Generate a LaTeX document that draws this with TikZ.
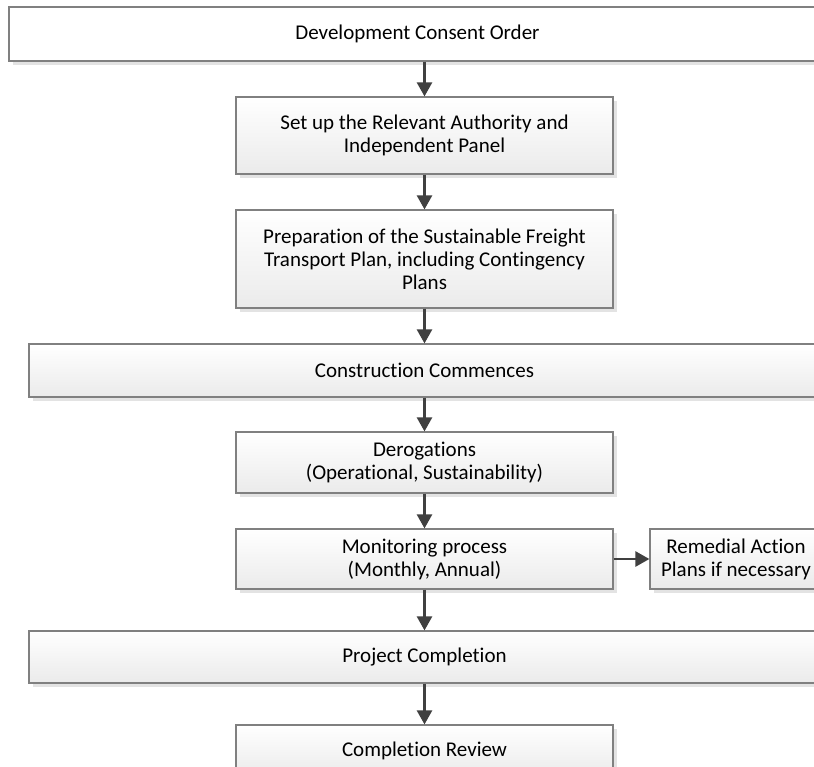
\documentclass[tikz,border=0pt]{standalone}
\usepackage{fontspec}
\setmainfont{Carlito}[Ligatures=NoCommon]
\usepackage{tikz}
\usetikzlibrary{arrows.meta}

\begin{document}
\begin{tikzpicture}[x=1pt, y=-1pt,
	stepbox/.style={draw=black!50, line width=1.2pt, top color=white, bottom color=black!8,
		align=center, inner sep=0pt, minimum width=377pt, text=black,
		font=\fontsize{21}{23}\selectfont,
		preaction={fill=black!11, transform canvas={xshift=4pt, yshift=-4pt}}},
	widebox/.style={stepbox, minimum width=791pt, minimum height=53pt},
	flow/.style={draw=black!75, line width=2.5pt, -{Triangle[length=14pt, width=15pt]}}]

	\useasboundingbox (0,0) rectangle (814,766);
	\fill[white] (0,0) rectangle (814,766);
	\clip (0,0) rectangle (814,766);

	\node[widebox, minimum width=817pt, minimum height=54pt, bottom color=white] (dco) at (417.5,34) {Development Consent Order};
	\node[stepbox, minimum height=77pt] (authority) at (424.5,135.5) {Set up the Relevant Authority and\\Independent Panel};
	\node[stepbox, minimum height=98pt] (sftp) at (424.5,259) {Preparation of the Sustainable Freight\\Transport Plan, including Contingency\\Plans};
	\node[widebox] (construction) at (424.5,370.5) {Construction Commences};
	\node[stepbox, minimum height=61pt] (derogations) at (424.5,462.5) {Derogations\\(Operational, Sustainability)};
	\node[stepbox, minimum height=60pt] (monitoring) at (424.5,559) {Monitoring process\\(Monthly, Annual)};
	\node[stepbox, minimum width=172pt, minimum height=60pt] (remedial) at (736,559) {Remedial Action\\Plans if necessary};
	\node[widebox, minimum height=52pt] (completion) at (424.5,657) {Project Completion};
	\node[stepbox, minimum height=52pt] (review) at (424.5,751) {Completion Review};

	\draw[flow] (dco.south -| authority.north) -- (authority);
	\draw[flow] (authority) -- (sftp);
	\draw[flow] (sftp) -- (construction);
	\draw[flow] (construction) -- (derogations);
	\draw[flow] (derogations) -- (monitoring);
	\draw[flow] (monitoring) -- (remedial);
	\draw[flow] (monitoring) -- (completion);
	\draw[flow] (completion) -- (review);

\end{tikzpicture}
\end{document}
